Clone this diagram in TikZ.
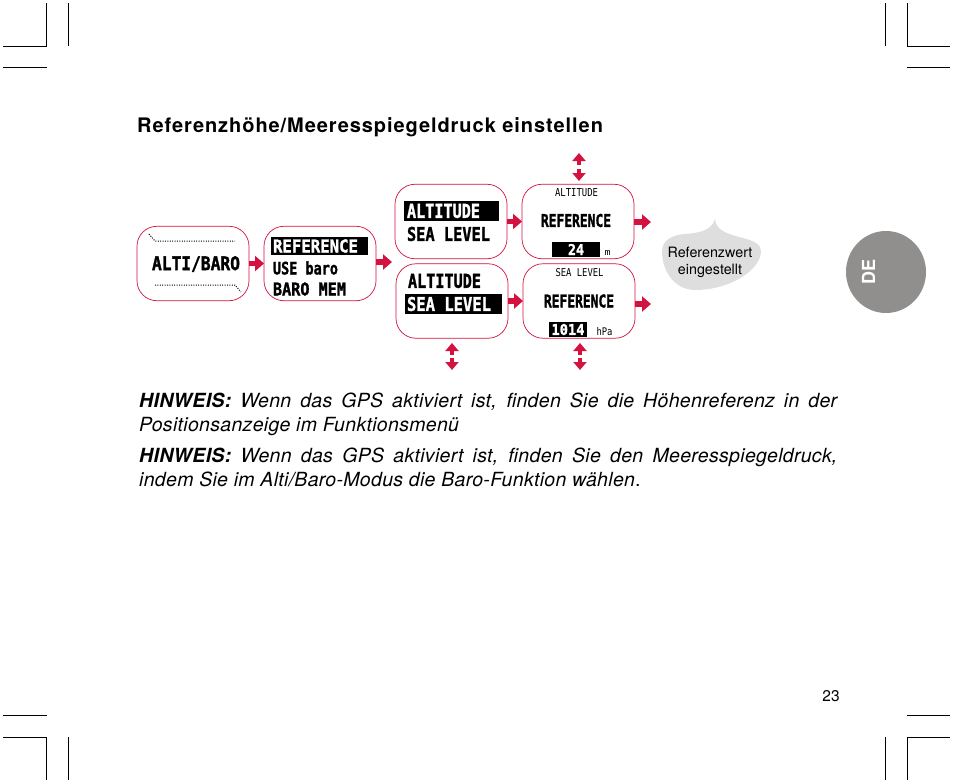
\documentclass[tikz,border=0pt]{standalone}
\usepackage{fontspec}
\usepackage{graphicx}
\usepackage{xcolor}
\setmainfont{TeX Gyre Heros}
\newfontfamily\lcdfont[BoldFeatures={FakeBold=1.6}]{DejaVu Sans Mono}
\definecolor{crimson}{HTML}{D3123F}
\definecolor{bubblegray}{HTML}{DEDEDE}
\definecolor{tabgray}{HTML}{918E8E}
\newcommand{\lcd}[3]{\resizebox{#1pt}{#2pt}{\lcdfont\bfseries #3}}
\newcommand{\lcdthin}[3]{\resizebox{#1pt}{#2pt}{\lcdfont #3}}
\usetikzlibrary{arrows.meta, positioning}

\begin{document}
\begin{tikzpicture}[
    x=1pt, y=-1pt,
    screen/.style={rectangle, draw=crimson, line width=0.7pt, fill=white, rounded corners=20pt, minimum width=112pt, minimum height=74.5pt, inner sep=0pt, outer sep=0pt},
    lcdtext/.style={inner sep=0pt, outer sep=0pt, black},
    lcdinv/.style={inner sep=0pt, outer sep=0pt, white},
    lcdbar/.style={fill=black, draw=none},
    flow/.style={line width=5.5pt, crimson, -{Triangle[length=9pt,width=15pt]}},
    updown/.style={line width=3.5pt, crimson, -{Triangle[length=8pt,width=13pt]}},
    dots/.style={line width=1pt, dash pattern=on 1pt off 1.4pt},
    crop/.style={line width=1pt, black},
    note/.style={font=\fontsize{19.5pt}{24pt}\selectfont\itshape\addfontfeatures{LetterSpace=1.6}, text width=698pt, align=justify, inner sep=0pt, anchor=north west}
]
\useasboundingbox (0,0) rectangle (954,784);

% Crop marks
\draw[crop] (3,46.5) -- (46.5,46.5) -- (46.5,3);
\draw[crop] (68,3) -- (68,46.5);
\draw[crop] (3,68) -- (46.5,68);
\draw[crop] (950,46.5) -- (907,46.5) -- (907,3);
\draw[crop] (885,3) -- (885,46.5);
\draw[crop] (950,68) -- (907,68);
\draw[crop] (3,737) -- (46.5,737) -- (46.5,780);
\draw[crop] (68,737) -- (68,780);
\draw[crop] (3,715) -- (46.5,715);
\draw[crop] (950,737) -- (907,737) -- (907,780);
\draw[crop] (885,737) -- (885,780);
\draw[crop] (950,715) -- (907,715);

% Heading
\node[anchor=base west, inner sep=0pt, font=\fontsize{20pt}{24pt}\selectfont\bfseries\addfontfeatures{LetterSpace=4.7}] (title) at (137,132) {Referenzhöhe/Meeresspiegeldruck einstellen};

% Screens
\node[screen] (alti) at (193,263.5) {};
\node[screen, right=15pt of alti] (menu) {};
\node[screen] (altitude) at (451,221.5) {};
\node[screen] (sealevel) at (452,301) {};
\node[screen, right=15pt of altitude] (refalt) {};
\node[screen, right=15pt of sealevel] (refsea) {};

% Screen contents
\draw[dots] (149,234) -- (155,241) -- (235,241);
\draw[dots] (155,285) -- (235,285) -- (241,292);
\node[lcdtext] (altilabel) at (196,264) {\lcd{88}{14}{ALTI/BARO}};

\fill[lcdbar] (271,237) rectangle (368,255);
\node[lcdinv, anchor=west] (menuref) at (273,246) {\lcd{85}{13}{REFERENCE}};
\node[lcdtext, anchor=west] (menuuse) at (273,268) {\lcd{65}{13}{USE baro}};
\node[lcdtext, anchor=west] (menumem) at (273,289) {\lcd{73}{13}{BARO MEM}};

\fill[lcdbar] (404,201) rectangle (499,221);
\node[lcdinv, anchor=west] (altione) at (407,211) {\lcd{73}{14}{ALTITUDE}};
\node[lcdtext, anchor=west] (seaone) at (407,234) {\lcd{83}{14}{SEA LEVEL}};

\node[lcdtext, anchor=west] (altitwo) at (408,281) {\lcd{73}{14}{ALTITUDE}};
\fill[lcdbar] (405,294) rectangle (502,314);
\node[lcdinv, anchor=west] (seatwo) at (407,304) {\lcd{84}{14}{SEA LEVEL}};

\node[lcdtext] (refalthead) at (576.5,193) {\lcdthin{43}{8}{ALTITUDE}};
\node[lcdtext] (refaltmain) at (576,220.5) {\lcd{70}{13}{REFERENCE}};
\fill[lcdbar] (552,242) rectangle (600,257);
\node[lcdinv] (refaltval) at (576,249.5) {\lcd{16}{11}{24}};
\node[lcdtext] (refaltunit) at (607.5,252.5) {\lcdthin{6}{5}{m}};

\node[lcdtext] (refseahead) at (579.5,273) {\lcdthin{48}{8}{SEA LEVEL}};
\node[lcdtext] (refseamain) at (579,301) {\lcd{70}{13}{REFERENCE}};
\fill[lcdbar] (549,322) rectangle (587,337);
\node[lcdinv] (refseaval) at (568,329.5) {\lcd{33}{11}{1014}};
\node[lcdtext] (refseaunit) at (604.5,331.5) {\lcdthin{16}{8}{hPa}};

% Free arrow ends
\coordinate (gap) at (392,262);
\coordinate (outalt) at (651,222);
\coordinate (outsea) at (651,304);
\coordinate (topup) at (579,153);
\coordinate (topupbase) at (579,165);
\coordinate (topdown) at (579,181);
\coordinate (topdownbase) at (579,169);
\coordinate (leftup) at (452,343);
\coordinate (leftupbase) at (452,355);
\coordinate (leftdown) at (452,370);
\coordinate (leftdownbase) at (452,358);
\coordinate (rightup) at (580,343);
\coordinate (rightupbase) at (580,355);
\coordinate (rightdown) at (580,370);
\coordinate (rightdownbase) at (580,358);

% Connections
\draw[flow] (alti.east) -- (menu.west);
\draw[flow] (menu.east |- gap) -- (gap);
\draw[flow] (altitude.east) -- (refalt.west);
\draw[flow] (sealevel.east) -- (refsea.west);
\draw[flow] (refalt.east |- outalt) -- (outalt);
\draw[flow] (refsea.east |- outsea) -- (outsea);
\draw[updown] (topupbase) -- (topup);
\draw[updown] (topdownbase) -- (topdown);
\draw[updown] (leftupbase) -- (leftup);
\draw[updown] (leftdownbase) -- (leftdown);
\draw[updown] (rightupbase) -- (rightup);
\draw[updown] (rightdownbase) -- (rightdown);

% Speech bubble
\fill[bubblegray] (715,219) .. controls (716,231) and (728,234) .. (743,238)
  .. controls (755,241) and (761,245) .. (761,251)
  .. controls (761,270) and (730,290) .. (695,290)
  .. controls (674,290) and (662,270) .. (662,252)
  .. controls (662,240) and (672,235) .. (685,234)
  .. controls (700,233) and (712,230) .. (715,219) -- cycle;
\node[align=center, inner sep=0pt, font=\fontsize{14.3pt}{17pt}\selectfont] (bubbletext) at (710,262.5) {Referenzwert\\eingestellt};

% Language tab
\fill[tabgray] (886,272) ellipse (40pt and 41pt);
\node[rotate=90, inner sep=0pt, white, font=\fontsize{18pt}{20pt}\selectfont\bfseries] (lang) at (868.5,271.5) {DE};

% Notes
\node[note] (noteone) at (139,393) {\textbf{HINWEIS:} Wenn das GPS aktiviert ist, finden Sie die Höhenreferenz in der\linebreak Positionsanzeige im Funktionsmenü};
\node[note] (notetwo) at (139,448) {\textbf{HINWEIS:} Wenn das GPS aktiviert ist, finden Sie den Meeresspiegeldruck,\linebreak indem Sie im Alti/Baro-Modus die Baro-Funktion wählen{\upshape .}};

% Page number
\node[inner sep=0pt, font=\fontsize{15.5pt}{16pt}\selectfont] (page) at (831,696) {23};

\end{tikzpicture}
\end{document}
